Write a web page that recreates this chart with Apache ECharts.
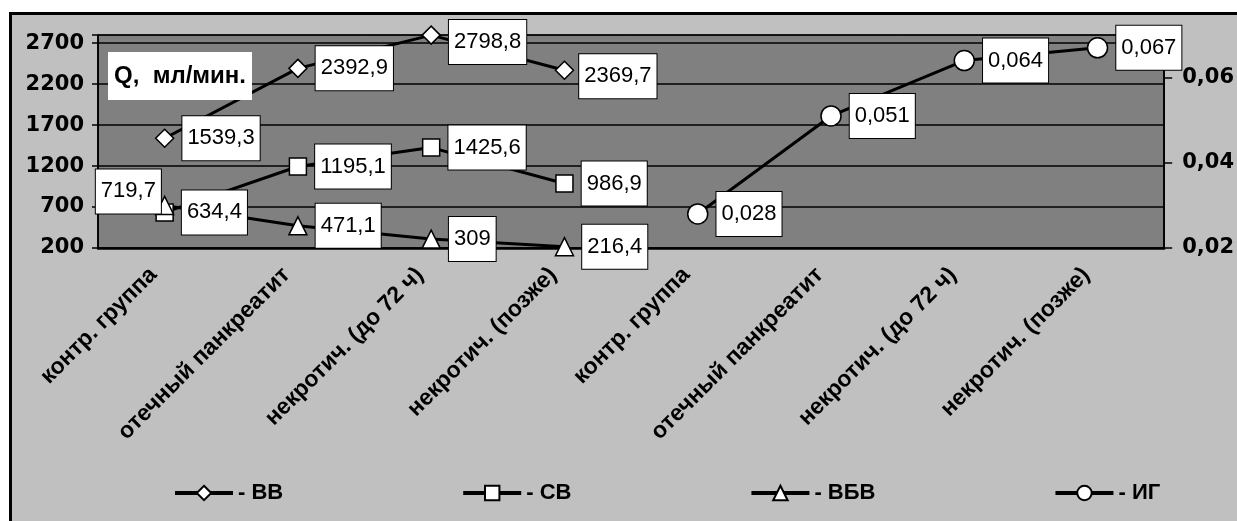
<!DOCTYPE html>
<html>
<head>
<meta charset="utf-8">
<script src="https://cdn.jsdelivr.net/npm/echarts@6/dist/echarts.min.js"></script>
<style>
  html, body { margin: 0; padding: 0; background: #fff; overflow: hidden; }
  #frame { position: absolute; left: 9px; top: 12px; width: 1300px; height: 600px;
           background: #c0c0c0; border: 3px solid #000; }
  #chart { position: absolute; left: 0; top: 0; width: 1237px; height: 521px; }
</style>
</head>
<body>
<div id="frame"></div>
<div id="chart"></div>
<script>
// ---- data ----
const categories = ['контр. группа', 'отечный панкреатит', 'некротич. (до 72 ч)', 'некротич. (позже)'];
const seriesNames = ['ВВ', 'СВ', 'ВБВ', 'ИГ'];
const vvValues  = [1539.3, 2392.9, 2798.8, 2369.7];
const svValues  = [634.4, 1195.1, 1425.6, 986.9];
const vbvValues = [719.7, 471.1, 309, 216.4];
const igValues  = [0.028, 0.051, 0.064, 0.067];
const leftAxis  = { min: 200, max: 2800, interval: 500 };
const rightAxis = { min: 0.02, max: 0.07, interval: 0.02 };
const unitLabel = 'Q,  мл/мин.';

// ---- build ----
const xLabels = categories.concat(categories);
const blank = categories.map(() => '-');
const fmt = v => String(v).replace('.', ',');

const labelBase = {
  show: true, position: 'right', distance: 8,
  fontFamily: 'Liberation Sans, Arial, sans-serif', fontSize: 22, lineHeight: 26,
  color: '#000', backgroundColor: '#fff', borderColor: '#000', borderWidth: 1,
  padding: [9, 5, 9, 5],
  formatter: p => fmt(p.value)
};

function makeSeries(name, values, symbol, size, leftSide, yIndex) {
  const data = leftSide ? values.concat(blank) : blank.concat(values);
  return {
    name, type: 'line', yAxisIndex: yIndex, data,
    symbol, symbolSize: size, showAllSymbol: true,
    lineStyle: { color: '#000', width: 3 },
    itemStyle: { color: '#fff', borderColor: '#000', borderWidth: 1.5 },
    label: labelBase,
    emphasis: { disabled: true },
    animation: false
  };
}

const series = [
  makeSeries(seriesNames[0], vvValues, 'diamond', 18, true, 0),
  makeSeries(seriesNames[1], svValues, 'rect', 17, true, 0),
  makeSeries(seriesNames[2], vbvValues, 'triangle', 18, true, 0),
  makeSeries(seriesNames[3], igValues, 'circle', 20, false, 1)
];
// label placement overrides (styling only)
series[2].data[0] = { value: vbvValues[0], label: { position: 'left', offset: [14, -14] } };
series[0].data[2] = { value: vvValues[2], label: { offset: [0, 7] } };
series[0].data[3] = { value: vvValues[3], label: { offset: [-3, 6] } };

const axisFont = 'DejaVu Sans, sans-serif';

const option = {
  animation: false,
  title: {
    text: unitLabel, left: 108, top: 52,
    backgroundColor: '#fff', padding: [11, 6, 11, 6],
    textStyle: { fontFamily: 'Liberation Sans, Arial, sans-serif', fontSize: 24, fontWeight: 'bold', color: '#000', lineHeight: 26 }
  },
  grid: {
    left: 98, right: 71, top: 35, bottom: 273,
    show: true, backgroundColor: '#808080', borderColor: '#000', borderWidth: 1
  },
  legend: {
    bottom: 12, left: 168, itemGap: 178, itemWidth: 58, itemHeight: 18,
    data: seriesNames,
    formatter: n => '- ' + n,
    lineStyle: { width: 4 },
    textStyle: { fontFamily: 'Liberation Sans, Arial, sans-serif', fontSize: 22, fontWeight: 'bold', color: '#000' }
  },
  xAxis: {
    type: 'category', data: xLabels, boundaryGap: true,
    axisLine: { lineStyle: { color: '#000', width: 2.5 } },
    axisTick: { show: false },
    splitLine: { show: true, interval: i => i === 4, lineStyle: { color: '#000', width: 1.5 } },
    axisLabel: {
      interval: 0, rotate: 45, margin: 12, padding: [0, 16, 0, 0],
      fontFamily: 'Liberation Sans, Arial, sans-serif', fontSize: 23, fontWeight: 'bold', color: '#000'
    }
  },
  yAxis: [
    {
      type: 'value', position: 'left',
      min: leftAxis.min, max: leftAxis.max, interval: leftAxis.interval,
      axisLine: { show: true, lineStyle: { color: '#000', width: 1.5 } },
      axisTick: { show: true, length: 6, lineStyle: { color: '#000', width: 1.5 } },
      splitLine: { show: true, lineStyle: { color: '#000', width: 1.5 } },
      axisLabel: {
        margin: 14, fontFamily: axisFont, fontSize: 21, fontWeight: 'bold', color: '#000',
        formatter: v => ((v - leftAxis.min) % leftAxis.interval === 0 ? String(v) : '')
      }
    },
    {
      type: 'value', position: 'right',
      min: rightAxis.min, max: rightAxis.max, interval: rightAxis.interval,
      axisLine: { show: true, lineStyle: { color: '#000', width: 1.5 } },
      axisTick: { show: true, length: 8, lineStyle: { color: '#000', width: 1.5 } },
      splitLine: { show: false },
      axisLabel: {
        margin: 18, fontFamily: axisFont, fontSize: 21, fontWeight: 'bold', color: '#000',
        formatter: v => {
          const k = Math.round((v - rightAxis.min) / rightAxis.interval * 1000) / 1000;
          return Number.isInteger(k) ? v.toFixed(2).replace('.', ',') : '';
        }
      }
    }
  ],
  series
};

const chart = echarts.init(document.getElementById('chart'), null, { renderer: 'canvas' });
chart.setOption(option);
</script>
</body>
</html>
